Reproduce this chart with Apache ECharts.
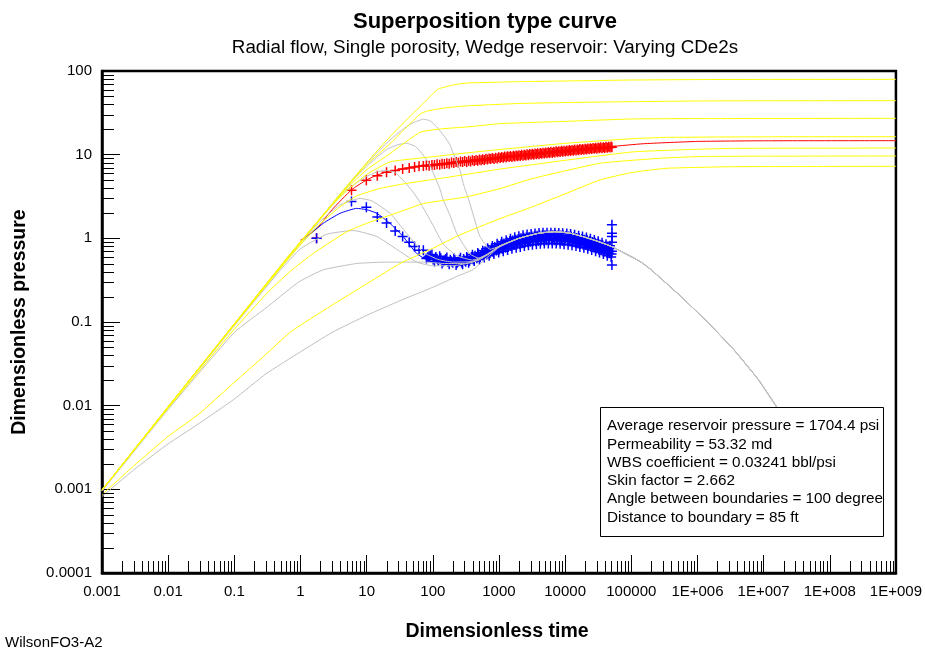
<!DOCTYPE html>
<html>
<head>
<meta charset="utf-8">
<script src="https://cdn.jsdelivr.net/npm/echarts@6/dist/echarts.min.js"></script>
<style>
html,body{margin:0;padding:0;background:#fff;}
#chart{width:925px;height:651px;}
</style>
</head>
<body>
<div id="chart"></div>
<script>
// ---------- tick labels (one per decade) ----------
const xTickLabels = ['0.001','0.01','0.1','1','10','100','1000','10000','100000','1E+006','1E+007','1E+008','1E+009'];
const yTickLabels = ['0.0001','0.001','0.01','0.1','1','10','100'];

// ---------- type curves: pressure (yellow), [time, pressure] ----------
const yellow1 = [[0.001,0.00098],[0.01,0.0097],[0.1,0.095],[0.69,0.64],[2,1.75],[5,4.2],[10,8.0],[22.5,16.4],[50,31],[72,41],[114,59],[128,62],[200,68],[327,71.8],[1000,73.5],[1850,74.5],[10000,76],[100000,78],[1e6,79],[1e7,79.3],[1e9,79.5]];
const yellow2 = [[0.001,0.00098],[0.01,0.0097],[0.1,0.095],[0.69,0.64],[2,1.74],[5,4.1],[10,7.6],[22.5,13.5],[35.7,19.5],[64,30.5],[80,33],[128,35.5],[229,37.5],[364,38.5],[731,39.5],[1850,40.8],[10000,42],[100000,43],[1e6,43.8],[1e7,44.1],[1e9,44.2]];
const yellow3 = [[0.001,0.00098],[0.01,0.0097],[0.1,0.095],[0.69,0.63],[2,1.72],[5,3.95],[10,6.6],[22.5,10.3],[64,18.5],[130,20.3],[364,21.6],[1035,23.5],[10000,25],[100000,26.7],[1e6,27],[1e9,27.2]];
const yellow4 = [[0.001,0.00098],[0.01,0.0097],[0.1,0.094],[0.69,0.62],[2,1.7],[3,2.5],[5,3.7],[10,5.8],[22.5,8.2],[64,9.1],[150,9.8],[364,10.6],[1000,11.5],[10500,13.7],[100000,15.5],[340000,16.1],[1e7,16.35],[1e9,16.4]];
const yellow5 = [[0.001,0.00098],[0.01,0.0096],[0.1,0.092],[0.5,0.44],[1,0.84],[2,1.5],[4,2.4],[7,3.2],[15,3.9],[32,4.4],[64,4.8],[150,5.3],[364,5.9],[1000,6.7],[10500,8.6],[107000,10.8],[1e6,11.6],[3.5e6,11.9],[1e9,12.0]];
const yellow6 = [[0.001,0.00097],[0.01,0.0093],[0.1,0.082],[0.31,0.22],[0.69,0.4],[1.56,0.66],[5,1.2],[10,1.51],[32,2.08],[72,2.6],[327,3.14],[1000,3.9],[3290,5.2],[34000,7.9],[300000,9.1],[1.1e6,9.5],[1e7,9.6],[1e9,9.63]];
const yellow7 = [[0.001,0.00086],[0.003,0.0019],[0.01,0.0043],[0.03,0.0081],[0.1,0.019],[0.3,0.041],[0.69,0.075],[2,0.13],[7,0.24],[32,0.5],[100,0.76],[257,1.1],[1000,1.7],[3290,2.4],[10000,3.4],[34000,5.0],[100000,6.1],[340000,6.87],[3.5e6,7.18],[1e9,7.26]];

// ---------- type curves: derivative (gray), [time, derivative] ----------
const gray1 = [[0.001,0.00098],[0.01,0.0097],[0.1,0.095],[0.69,0.64],[2,1.75],[5,4.2],[10,7.9],[22.5,15],[35,20],[50,24],[72,26.5],[90,25.5],[114,21.6],[150,16.5],[181,13.2],[204,10.4],[257,6.5],[289,4.5],[364,2.6],[460,1.38],[516,1.05],[731,0.74],[1000,0.8]];
const gray2 = [[0.001,0.00098],[0.01,0.0097],[0.1,0.095],[0.69,0.64],[2,1.74],[5,4.1],[10,7.3],[20,11.5],[30,13.2],[40,13.7],[55,12.5],[72,9.8],[90,7.5],[128,3.9],[144,2.87],[181,1.9],[229,1.15],[257,0.98],[364,0.65],[500,0.58],[731,0.68],[1000,0.8]];
const gray3 = [[0.001,0.00098],[0.01,0.0097],[0.1,0.094],[0.69,0.62],[2,1.7],[5,3.8],[10,5.5],[15,6.3],[20,6.5],[27,6.1],[36,4.9],[50,3.6],[64,2.7],[100,1.45],[144,0.85],[229,0.62],[400,0.55],[700,0.65],[1000,0.8]];
const gray4 = [[0.001,0.00098],[0.01,0.0096],[0.1,0.092],[0.5,0.45],[1,0.84],[2,1.6],[3.96,2.5],[7.9,3.0],[12,2.8],[22.5,2.0],[40,1.15],[72,0.68],[120,0.56],[200,0.52],[400,0.53],[700,0.65],[1000,0.8]];
const gray5 = [[0.001,0.00097],[0.01,0.0095],[0.1,0.09],[0.5,0.42],[1,0.75],[2.5,1.12],[6.3,1.24],[14.3,1.05],[28.5,0.74],[57,0.52],[100,0.47],[200,0.47],[400,0.52],[700,0.65],[1000,0.8]];
const gray6 = [[0.001,0.00095],[0.01,0.009],[0.1,0.075],[0.31,0.15],[0.69,0.25],[1,0.31],[2.2,0.42],[7,0.5],[20,0.52],[72,0.52],[150,0.5],[300,0.5],[500,0.55],[800,0.7],[1000,0.8]];
const gray7 = [[0.001,0.00082],[0.003,0.0017],[0.01,0.0035],[0.03,0.0062],[0.1,0.012],[0.3,0.024],[1,0.044],[3,0.075],[10,0.12],[32,0.18],[100,0.26],[230,0.35],[400,0.42],[600,0.55],[1000,0.78]];
const grayTail = [[2000,1.0],[4000,1.15],[7000,1.2],[12000,1.15],[20000,1.03],[30000,0.93],[50000,0.8],[135000,0.53],[200000,0.42],[570000,0.2],[1.47e6,0.097],[3.6e6,0.046],[8.4e6,0.0203],[1.57e7,0.0097],[3e7,0.0048]];

// ---------- matched model ----------
const modelPressure = [[1,0.95],[1.75,1.3],[3,2.2],[5.9,3.8],[10,5.0],[14.5,5.7],[20,6.2],[28.5,6.55],[40,6.9],[64,7.3],[100,7.55],[300,8.3],[1000,9.2],[3000,10.1],[10000,11.1],[30000,12.0],[50000,12.5],[150000,13.5],[1e6,14.4],[1e7,14.65],[1e9,14.7]];
const modelDerivative = [[1,0.9],[2.2,1.51],[3.96,1.99],[7.06,2.28],[10,2.2],[14.3,1.99],[22.5,1.51],[35.7,1.05],[57,0.66],[90,0.53],[180,0.52],[300,0.53],[460,0.57],[700,0.67],[1000,0.78],[2000,0.98],[4000,1.12],[7000,1.17],[12000,1.12],[20000,1.0],[30000,0.92],[50000,0.78]];

// ---------- measured data, [time, value] ----------
const pressureData = [[1.75,1.0],[5.9,3.75],[9.9,4.95],[14.5,5.6],[20,6.15],[27,6.45],[35,6.75],[44,6.95],[53,7.1],[62,7.25],[72,7.3],[80,7.45],[88,7.35],[97,7.55],[106,7.5],[116,7.7],[127,7.6],[138,7.8],[150,7.75],[163,7.9],[177,7.8],[192,8.05],[208,7.95],[225,8.15],[243,8.0],[262,8.3],[282,8.15],[303,8.4],[325,8.2],[348,8.45],[372,8.3],[397,8.55],[423,8.4],[450,8.65],[478,8.45],[507,8.75],[537,8.55],[568,8.8],[600,8.65],[635,8.95],[672,8.75],[711,9.0],[752,8.85],[795,9.1],[840,8.9],[888,9.2],[938,9.0],[990,9.3],[1045,9.1],[1100,9.4],[1160,9.2],[1220,9.5],[1285,9.25],[1350,9.55],[1420,9.35],[1490,9.65],[1570,9.4],[1650,9.7],[1730,9.5],[1820,9.8],[1910,9.55],[2000,9.85],[2100,9.65],[2200,9.95],[2310,9.7],[2420,10.0],[2540,9.8],[2660,10.1],[2790,9.85],[2920,10.2],[3060,9.95],[3200,10.25],[3350,10.0],[3510,10.35],[3680,10.1],[3850,10.4],[4030,10.15],[4220,10.5],[4420,10.25],[4630,10.55],[4850,10.3],[5080,10.65],[5320,10.4],[5570,10.7],[5830,10.45],[6100,10.8],[6390,10.5],[6690,10.85],[7000,10.6],[7330,10.95],[7670,10.7],[8030,11.0],[8400,10.75],[8800,11.1],[9200,10.85],[9630,11.15],[10100,10.9],[10600,11.25],[11100,11.0],[11600,11.35],[12100,11.05],[12700,11.4],[13300,11.15],[13900,11.5],[14600,11.2],[15300,11.55],[16000,11.3],[16700,11.65],[17500,11.35],[18300,11.7],[19200,11.45],[20100,11.8],[21000,11.5],[22000,11.85],[23000,11.6],[24100,11.95],[25200,11.65],[26400,12.0],[27600,11.75],[28900,12.1],[30200,11.8],[31600,12.15],[33100,11.9],[34600,12.25],[36200,11.95],[37900,12.3],[39700,12.05],[41500,12.4],[43400,12.1],[45400,12.45],[47500,12.2],[49600,12.55],[51000,12.3]];
const derivativeData = [[1.75,1.0],[5.9,2.75],[9.9,2.35],[14.5,1.8],[20,1.52],[27,1.22],[35,1.05],[44,0.9],[53,0.8],[62,0.72],[72,0.72],[80,0.575],[88,0.61],[97,0.64],[106,0.53],[116,0.57],[127,0.61],[138,0.5],[150,0.545],[163,0.59],[177,0.49],[192,0.53],[208,0.58],[225,0.48],[243,0.53],[262,0.585],[282,0.49],[303,0.545],[325,0.6],[348,0.51],[372,0.57],[397,0.635],[423,0.535],[450,0.6],[478,0.67],[507,0.56],[537,0.63],[568,0.71],[600,0.59],[635,0.67],[672,0.76],[711,0.62],[752,0.71],[795,0.81],[840,0.65],[888,0.75],[938,0.86],[990,0.675],[1045,0.79],[1100,0.91],[1160,0.7],[1220,0.82],[1285,0.95],[1350,0.725],[1420,0.855],[1490,0.99],[1570,0.75],[1650,0.885],[1730,1.03],[1820,0.77],[1910,0.91],[2000,1.06],[2100,0.79],[2200,0.935],[2310,1.09],[2420,0.81],[2540,0.96],[2660,1.11],[2790,0.825],[2920,0.975],[3060,1.13],[3200,0.84],[3350,0.99],[3510,1.14],[3680,0.85],[3850,1.0],[4030,1.16],[4220,0.86],[4420,1.01],[4630,1.17],[4850,0.865],[5080,1.02],[5320,1.17],[5570,0.87],[5830,1.02],[6100,1.17],[6390,0.87],[6690,1.02],[7000,1.17],[7330,0.865],[7670,1.015],[8030,1.16],[8400,0.86],[8800,1.005],[9200,1.15],[9630,0.85],[10100,1.0],[10600,1.14],[11100,0.84],[11600,0.985],[12100,1.125],[12700,0.825],[13300,0.965],[13900,1.1],[14600,0.81],[15300,0.94],[16000,1.075],[16700,0.79],[17500,0.92],[18300,1.05],[19200,0.77],[20100,0.9],[21000,1.02],[22000,0.75],[23000,0.87],[24100,0.99],[25200,0.725],[26400,0.84],[27600,0.955],[28900,0.7],[30200,0.81],[31600,0.92],[33100,0.675],[34600,0.78],[36200,0.885],[37900,0.65],[39700,0.75],[41500,0.85],[43400,0.62],[45400,0.72],[47500,0.815],[49600,0.6],[51000,0.7],[51000,1.45],[51000,1.15],[51000,1.05],[51000,0.9],[51000,0.48],
  [84,0.595],[92,0.625],[101,0.56],[111,0.6],[121,0.54],[132,0.58],[144,0.53],[156,0.565],[170,0.52],[184,0.555],[200,0.51],[216,0.55],[234,0.51],[252,0.555],[272,0.515],[292,0.565],[314,0.525],[336,0.58],[360,0.54],[384,0.6],[410,0.56],[436,0.62],[464,0.58],[492,0.645],[522,0.595],[552,0.67],[584,0.62],[618,0.7],[653,0.64],[691,0.73],[731,0.665],[773,0.76],[817,0.69],[864,0.79],[913,0.715],[964,0.82],[1017,0.735],[1072,0.85],[1130,0.75],[1190,0.87],[1252,0.77],[1317,0.9],[1385,0.79],[1455,0.92],[1530,0.81],[1610,0.94],[1690,0.83],[1775,0.965],[1865,0.845],[1955,0.98],[2050,0.86],[2150,1.0],[2255,0.875],[2365,1.015],[2480,0.89],[2600,1.03],[2725,0.9],[2855,1.04],[2990,0.91],[3130,1.05],[3275,0.92],[3430,1.06],[3595,0.925],[3765,1.07],[3940,0.93],[4125,1.08],[4320,0.94],[4525,1.085],[4740,0.945],[4965,1.09],[5200,0.95],[5445,1.09],[5700,0.95],[5965,1.09],[6245,0.95],[6540,1.09],[6845,0.95],[7165,1.09],[7500,0.945],[7850,1.085],[8215,0.94],[8600,1.08],[9000,0.93],[9415,1.07],[9865,0.93],[10350,1.065],[10850,0.92],[11350,1.055],[11850,0.915],[12400,1.045],[13000,0.9],[13600,1.03],[14250,0.89],[14950,1.01],[15650,0.87],[16350,1.0],[17100,0.86],[17900,0.98],[18750,0.845],[19650,0.965],[20550,0.83],[21500,0.95],[22500,0.815],[23550,0.925],[24650,0.795],[25800,0.905],[27000,0.775],[28250,0.885],[29550,0.76],[30900,0.86],[32350,0.74],[33850,0.84],[35400,0.72],[37050,0.82],[38800,0.7],[40600,0.8],[42450,0.685],[44400,0.775],[46450,0.665],[48550,0.755],[50300,0.65]];

const statLines = ['Average reservoir pressure = 1704.4 psi','Permeability = 53.32 md','WBS coefficient = 0.03241 bbl/psi','Skin factor = 2.662','Angle between boundaries = 100 degree','Distance to boundary = 85 ft'];

// ---------- build ----------
const FONT = '"Liberation Sans", Arial, Helvetica, sans-serif';
const crossPath = 'path://M0,4.25H10V5.75H0Z M4.25,0H5.75V10H4.25Z';
const L = Math.log10;
const toLog = arr => arr.map(d => [L(d[0]), L(d[1])]);

const minorX = [];
for (let e = -3; e < 9; e++) for (let k = 2; k <= 9; k++) minorX.push([L(k) + e, -4]);
const minorY = [];
for (let e = -4; e < 2; e++) for (let k = 2; k <= 9; k++) minorY.push([-3, L(k) + e]);

function lineS(data, color, z) {
  return {type:'line', data:toLog(data), showSymbol:false, symbol:'none', smooth:0.15,
          lineStyle:{color:color, width:1}, z:z, silent:true, animation:false};
}
function crossS(data, color) {
  return {type:'scatter', data:toLog(data), symbol:crossPath, symbolSize:10,
          itemStyle:{color:color, opacity:1}, z:2, silent:true, animation:false};
}

const series = [];
series.push(crossS(pressureData, '#ff0000'));
series.push(crossS(derivativeData, '#0000ff'));
series.push(lineS(modelPressure, '#ff0000', 3));
series.push(lineS(modelDerivative, '#0000ff', 3));
[gray1,gray2,gray3,gray4,gray5,gray6,gray7].forEach(g => series.push(lineS(g.concat(grayTail), '#c0c0c0', 4)));
[yellow1,yellow2,yellow3,yellow4,yellow5,yellow6,yellow7].forEach(y => series.push(lineS(y, '#ffff00', 4)));

series.push({type:'custom', data:minorX, silent:true, z:5, animation:false,
  renderItem:function(params, api){
    const p = api.coord([api.value(0), api.value(1)]);
    const x = Math.round(p[0]) + 0.5;
    return {type:'line', shape:{x1:x, y1:p[1], x2:x, y2:p[1]-12}, style:{stroke:'#000', lineWidth:1}};
  }});
series.push({type:'custom', data:minorY, silent:true, z:5, animation:false,
  renderItem:function(params, api){
    const p = api.coord([api.value(0), api.value(1)]);
    const y = Math.round(p[1]) + 0.5;
    return {type:'line', shape:{x1:p[0], y1:y, x2:p[0]+12, y2:y}, style:{stroke:'#000', lineWidth:1}};
  }});

const graphics = [
  {type:'text', x:485, y:22, z:100, style:{text:'Superposition type curve', fontSize:22, fontWeight:'bold', fontFamily:FONT, fill:'#000', align:'center', verticalAlign:'middle'}},
  {type:'text', x:485, y:48, z:100, style:{text:'Radial flow, Single porosity, Wedge reservoir: Varying CDe2s', fontSize:18.8, fontFamily:FONT, fill:'#000', align:'center', verticalAlign:'middle'}},
  {type:'text', x:497, y:632, z:100, style:{text:'Dimensionless time', fontSize:19.5, fontWeight:'bold', fontFamily:FONT, fill:'#000', align:'center', verticalAlign:'middle'}},
  {type:'text', x:20, y:322, rotation:Math.PI/2, z:100, style:{text:'Dimensionless pressure', fontSize:19.5, fontWeight:'bold', fontFamily:FONT, fill:'#000', align:'center', verticalAlign:'middle'}},
  {type:'text', x:5, y:643, z:100, style:{text:'WilsonFO3-A2', fontSize:15, fontFamily:FONT, fill:'#000', align:'left', verticalAlign:'middle'}},
  {type:'rect', z:100, shape:{x:600.5, y:407.5, width:283, height:129}, style:{fill:'#fff', stroke:'#000', lineWidth:1}}
];
statLines.forEach((s,i) => graphics.push({type:'text', x:607, y:426 + i*18.3, z:101,
  style:{text:s, fontSize:15.3, fontFamily:FONT, fill:'#000', align:'left', verticalAlign:'middle'}}));

const chart = echarts.init(document.getElementById('chart'), null, {renderer:'canvas'});
chart.setOption({
  animation:false,
  backgroundColor:'#fff',
  grid:{left:102, right:29, top:71, bottom:78, show:true, borderColor:'#000', borderWidth:2.5, backgroundColor:'transparent', containLabel:false},
  xAxis:{type:'value', min:-3, max:9, interval:1,
    axisLine:{show:true, onZero:false, lineStyle:{color:'#000', width:2.5}},
    axisTick:{show:true, inside:true, length:18, lineStyle:{color:'#000', width:1}},
    minorTick:{show:false}, splitLine:{show:false},
    axisLabel:{color:'#000', fontSize:15, fontFamily:FONT, margin:11, showMinLabel:true, showMaxLabel:true, hideOverlap:false,
      formatter:function(v){ return xTickLabels[Math.round(v)+3]; }}},
  yAxis:{type:'value', min:-4, max:2, interval:1,
    axisLine:{show:true, onZero:false, lineStyle:{color:'#000', width:2.5}},
    axisTick:{show:true, inside:true, length:18, lineStyle:{color:'#000', width:1}},
    minorTick:{show:false}, splitLine:{show:false},
    axisLabel:{color:'#000', fontSize:15, fontFamily:FONT, margin:10, showMinLabel:true, showMaxLabel:true, hideOverlap:false,
      formatter:function(v){ return yTickLabels[Math.round(v)+4]; }}},
  series:series,
  graphic:graphics
});
</script>
</body>
</html>
